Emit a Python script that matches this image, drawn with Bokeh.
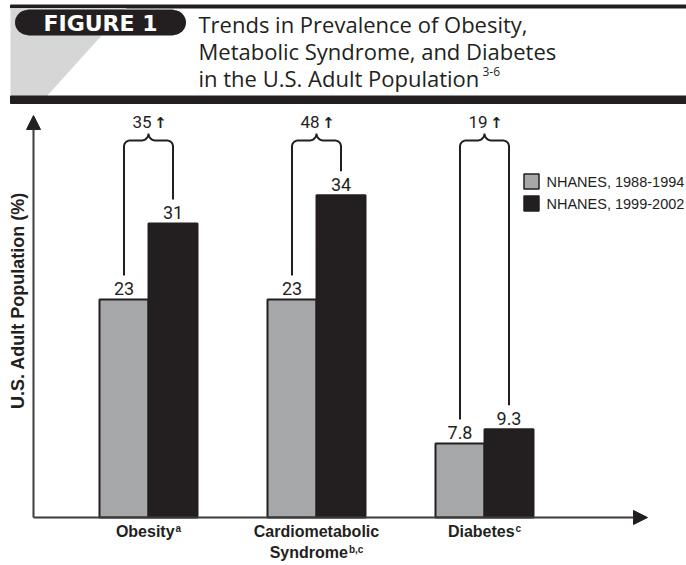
import numpy as np
from bokeh.plotting import figure
from bokeh.models import Range1d, Arrow, NormalHead
from bokeh.core.properties import value
from bokeh.embed import file_html
from bokeh.resources import INLINE

# ---------------- data ----------------
categories = ["Obesity", "Cardiometabolic Syndrome", "Diabetes"]
category_lines = [["Obesity"], ["Cardiometabolic", "Syndrome"], ["Diabetes"]]
footnotes = ["a", "b,c", "c"]
series_names = ["NHANES, 1988-1994", "NHANES, 1999-2002"]
prevalence_1988_1994 = [23, 23, 7.8]
prevalence_1999_2002 = [31, 34, 9.3]
relative_increase = [35, 48, 19]

figure_tag = "FIGURE 1"
title_lines = ["Trends in Prevalence of Obesity,",
               "Metabolic Syndrome, and Diabetes",
               "in the U.S. Adult Population"]
title_refs = "3-6"
y_label = "U.S. Adult Population (%)"

# ---------------- page geometry (pixels) ----------------
W, H = 686, 565
CAT0_PX, CAT_STEP_PX = 148, 168     # centre of first category, category spacing
BASE_PX, PX_PER_PCT = 517, 9.48     # zero line, pixels per percentage point


def X(px):
    return (px - CAT0_PX) / CAT_STEP_PX


def Y(py):
    return (BASE_PX - py) / PX_PER_PCT


def DX(px):
    return px / CAT_STEP_PX


def DY(px):
    return px / PX_PER_PCT


def BL(py, size):
    """y for a text drawn with a 'middle' anchor so that its baseline sits at py."""
    return Y(py - 0.32 * size)


# Arial / Liberation Sans Bold advance widths (1/1000 em) for label layout
BOLD_W = {" ": 278, ",": 278, "a": 556, "b": 611, "c": 556, "d": 611, "e": 556,
          "i": 278, "l": 278, "m": 889, "n": 611, "o": 611, "r": 389, "s": 556,
          "t": 333, "y": 556, "C": 722, "D": 722, "O": 778, "S": 667}


def bold_width(s, size):
    return sum(BOLD_W.get(ch, 556) for ch in s) * size / 1000.0


INK = "#231f20"
GREY = "#a7a8aa"
LABEL_FONT = value("Roboto")
SANS = value("Liberation Sans")
TITLE_FONT = value("Open Sans")

p = figure(width=W, height=H,
           x_range=Range1d(X(0), X(W)), y_range=Range1d(Y(H), Y(0)),
           output_backend="svg", toolbar_location=None,
           x_axis_location=None, y_axis_location=None,
           min_border=0, outline_line_color=None, background_fill_color="white")
p.grid.visible = False

# ---------------- header band ----------------
p.quad(left=X(10), right=X(W), top=Y(4.5), bottom=Y(7.5), color=INK)
p.patch([X(10), X(126), X(46), X(10)], [Y(7.5), Y(7.5), Y(96), Y(96)],
        color="#d6d6d6", line_color=None)
p.quad(left=X(10), right=X(W), top=Y(95.5), bottom=Y(103), color=INK)

# figure tag pill
p.quad(left=X(27), right=X(173), top=Y(9.5), bottom=Y(34.5), color=INK)
p.scatter([X(27), X(173)], [Y(22), Y(22)], size=25, marker="circle",
          color=INK, line_color=None)
p.text(x=[X(100)], y=[BL(30, 22)], text=[figure_tag], text_align="center",
       text_baseline="middle", text_font=value("DejaVu Sans"),
       text_font_style="bold", text_font_size="22px", text_color="white")

for i, line in enumerate(title_lines):
    p.text(x=[X(198)], y=[BL(31 + 27 * i, 22)], text=[line], text_align="left",
           text_baseline="middle", text_font=TITLE_FONT,
           text_font_size="22px", text_color=INK)
p.text(x=[X(482)], y=[BL(75, 12)], text=[title_refs], text_align="left",
       text_baseline="middle", text_font=TITLE_FONT,
       text_font_size="12px", text_color=INK)

# ---------------- axes with arrow heads ----------------
AXIS_X = X(33)
p.add_layout(Arrow(end=NormalHead(size=14, fill_color=INK, line_color=INK),
                   x_start=AXIS_X, y_start=0, x_end=AXIS_X, y_end=Y(115),
                   line_color="#3c3a3b", line_width=2))
p.add_layout(Arrow(end=NormalHead(size=14, fill_color=INK, line_color=INK),
                   x_start=AXIS_X, y_start=0, x_end=X(647), y_end=0,
                   line_color="#3c3a3b", line_width=2))

p.text(x=[X(17)], y=[Y(300)], text=[y_label], angle=np.pi / 2,
       text_align="center", text_baseline="middle", text_font=SANS,
       text_font_style="bold", text_font_size="18px", text_color=INK)

# ---------------- bars ----------------
idx = np.arange(len(categories))
BAR_W = DX(49)
OFF = BAR_W / 2
old = np.array(prevalence_1988_1994, dtype=float)
new = np.array(prevalence_1999_2002, dtype=float)

p.vbar(x=idx - OFF, top=old, bottom=0, width=BAR_W,
       fill_color=GREY, line_color=INK, line_width=2)
p.vbar(x=idx + OFF, top=new, bottom=0, width=BAR_W,
       fill_color=INK, line_color=INK, line_width=2)

VAL_SIZE = 18
p.text(x=idx - OFF, y=old + DY(5 + 0.32 * VAL_SIZE),
       text=[f"{v:g}" for v in old], text_align="center",
       text_baseline="middle", text_font=LABEL_FONT,
       text_font_size=f"{VAL_SIZE}px", text_color=INK)
p.text(x=idx + OFF, y=new + DY(5 + 0.32 * VAL_SIZE),
       text=[f"{v:g}" for v in new], text_align="center",
       text_baseline="middle", text_font=LABEL_FONT,
       text_font_size=f"{VAL_SIZE}px", text_color=INK)

# ---------------- braces with relative increase ----------------
yb = Y(140)
rc, rb = 6, 7   # corner radius, brace-tip radius (px)


def arc(cx, cy, rpx, t0, t1, n=10):
    t = np.linspace(t0, t1, n)
    return list(cx + DX(rpx) * np.cos(t)), list(cy + DY(rpx) * np.sin(t))


xs_all, ys_all = [], []
for i in idx:
    xl, xr, cx = i - OFF, i + OFF, float(i)
    xs, ys = [xl], [old[i] + DY(24)]
    ax, ay = arc(xl + DX(rc), yb - DY(rc), rc, np.pi, np.pi / 2)
    xs += ax; ys += ay
    ax, ay = arc(cx - DX(rb), yb + DY(rb), rb, -np.pi / 2, 0)
    xs += ax; ys += ay
    ax, ay = arc(cx + DX(rb), yb + DY(rb), rb, np.pi, 1.5 * np.pi)
    xs += ax; ys += ay
    ax, ay = arc(xr - DX(rc), yb - DY(rc), rc, np.pi / 2, 0)
    xs += ax; ys += ay
    xs.append(xr); ys.append(new[i] + DY(24))
    xs_all.append(xs); ys_all.append(ys)

p.multi_line(xs_all, ys_all, line_color=INK, line_width=2)

# percentage increase above each brace, followed by a bold up arrow
INC_SIZE = 17
p.text(x=idx - DX(6.5), y=np.full(len(idx), BL(127, INC_SIZE)),
       text=[f"{v}" for v in relative_increase], text_align="center",
       text_baseline="middle", text_font=LABEL_FONT,
       text_font_size=f"{INC_SIZE}px", text_color=INK)
p.text(x=idx + DX(12), y=np.full(len(idx), BL(127, 15)),
       text=["\u2191"] * len(idx), text_align="center",
       text_baseline="middle", text_font=value("DejaVu Sans"),
       text_font_style="bold", text_font_size="15px", text_color=INK)

# ---------------- category labels with footnote marks ----------------
CAT_SIZE, SUP_SIZE = 16, 10
for i, (lines, note) in enumerate(zip(category_lines, footnotes)):
    for j, line in enumerate(lines):
        base_px = 536 + 21 * j
        last = j == len(lines) - 1
        w_main = bold_width(line, CAT_SIZE)
        w_sup = bold_width(note, SUP_SIZE) + 1 if last else 0
        left_px = CAT0_PX + CAT_STEP_PX * i - (w_main + w_sup) / 2
        p.text(x=[X(left_px)], y=[BL(base_px, CAT_SIZE)], text=[line],
               text_align="left", text_baseline="middle", text_font=SANS,
               text_font_style="bold", text_font_size=f"{CAT_SIZE}px",
               text_color=INK)
        if last:
            p.text(x=[X(left_px + w_main + 1)], y=[BL(base_px - 5, SUP_SIZE)],
                   text=[note], text_align="left", text_baseline="middle",
                   text_font=SANS, text_font_style="bold",
                   text_font_size=f"{SUP_SIZE}px", text_color=INK)

# ---------------- legend ----------------
for k, (name, fill) in enumerate(zip(series_names, [GREY, INK])):
    cy = Y(181 + 22 * k)
    p.scatter([X(531)], [cy], marker="square", size=15, fill_color=fill,
              line_color=INK, line_width=1.5)
    p.text(x=[X(546)], y=[cy], text=[name], text_align="left",
           text_baseline="middle", text_font=SANS, text_font_size="14.5px",
           text_color=INK)

open("out.html", "w").write(file_html(p, INLINE))
